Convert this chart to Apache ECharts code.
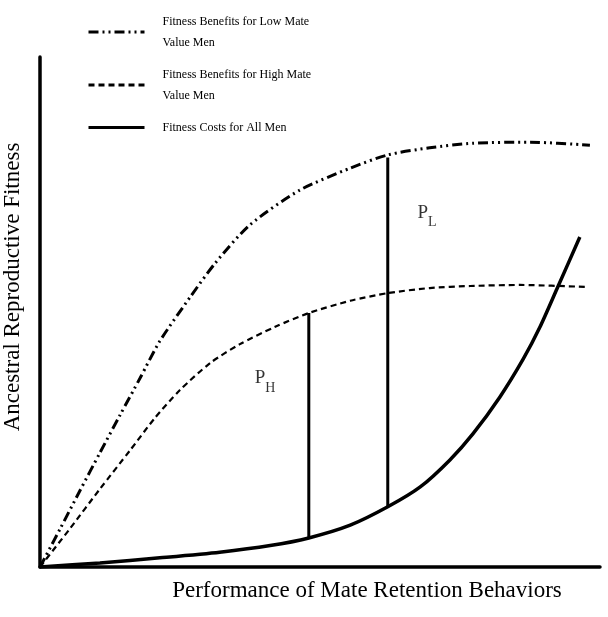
<!DOCTYPE html>
<html>
<head>
<meta charset="utf-8">
<script src="https://cdn.jsdelivr.net/npm/echarts@6/dist/echarts.min.js"></script>
<style>
html,body{margin:0;padding:0;background:#fff;}
#chart{width:608px;height:617px;}
</style>
</head>
<body>
<div id="chart"></div>
<script>
// Names
const nameLow = 'Fitness Benefits for Low Mate\nValue Men';
const nameHigh = 'Fitness Benefits for High Mate\nValue Men';
const nameCost = 'Fitness Costs for All Men';
const xAxisName = 'Performance of Mate Retention Behaviors';
const yAxisName = 'Ancestral Reproductive Fitness';

// Fitness benefits for low mate value men (dash-dot-dot)
const lowX = [0, 3.6, 7.1, 10.7, 14.3, 17.9, 21.4, 26.8, 31.3, 37.5, 46.4, 55.4, 62.1, 69.6, 77.3, 87.5, 98.2];
const lowY = [0, 7.5, 14.9, 22.4, 29.8, 37.1, 44.3, 52.9, 59.6, 67.1, 73.9, 78.2, 80.8, 82.2, 83.1, 83.3, 82.7];

// Fitness benefits for high mate value men (dashed)
const highX = [0, 5.4, 10.7, 16.1, 20.5, 25.0, 30.4, 35.7, 42.0, 48.0, 55.4, 62.1, 69.6, 76.8, 85.7, 97.9];
const highY = [0, 7.6, 15.3, 22.9, 29.2, 34.7, 40.0, 43.7, 47.1, 49.8, 52.2, 53.7, 54.7, 55.1, 55.3, 54.9];

// Fitness costs for all men (solid)
const costX = [0, 10.7, 21.4, 32.1, 41.1, 48.0, 55.4, 62.1, 67.9, 73.2, 77.3, 82.1, 86.3, 89.3, 92.3, 96.4];
const costY = [0, 0.8, 1.8, 2.9, 4.2, 5.7, 8.2, 11.8, 15.7, 21.0, 26.1, 33.3, 40.8, 47.1, 54.5, 64.7];

// Vertical gaps P_H and P_L
const gapNames = ['H', 'L'];
const gapX = [48.0, 62.1];
const gapBottom = [5.7, 11.8];
const gapTop = [49.8, 80.3];
const gapLabelX = [40.2, 69.1];
const gapLabelY = [36.5, 69.0];

const zip = (xs, ys) => xs.map((x, i) => [x, ys[i]]);
const serif = '"Liberation Serif", "Times New Roman", serif';

const series = [
  {
    name: nameLow, type: 'line', smooth: 0.25, symbol: 'none',
    data: zip(lowX, lowY),
    lineStyle: { color: '#000', width: 3, type: [10, 4, 2, 4, 2, 4], cap: 'butt' }
  },
  {
    name: nameHigh, type: 'line', smooth: 0.25, symbol: 'none',
    data: zip(highX, highY),
    lineStyle: { color: '#000', width: 2.2, type: [6, 4], cap: 'butt' }
  },
  {
    name: nameCost, type: 'line', smooth: 0.25, symbol: 'none',
    data: zip(costX, costY),
    lineStyle: { color: '#000', width: 3.5 }
  }
];
gapX.forEach((x, i) => {
  series.push({
    type: 'line', symbol: 'none', silent: true,
    data: [[x, gapBottom[i]], [x, gapTop[i]]],
    lineStyle: { color: '#000', width: 3 }
  });
  series.push({
    type: 'scatter', symbolSize: 0, silent: true,
    data: [[gapLabelX[i], gapLabelY[i]]],
    label: {
      show: true, position: 'inside',
      formatter: '{p|P}{s|' + gapNames[i] + '}',
      rich: {
        p: { fontFamily: serif, fontSize: 19, color: '#000', verticalAlign: 'top', lineHeight: 24 },
        s: { fontFamily: serif, fontSize: 14, color: '#000', verticalAlign: 'bottom', lineHeight: 24, padding: [0, 0, -2, 0] }
      }
    }
  });
});

const chart = echarts.init(document.getElementById('chart'), null, { renderer: 'canvas' });
chart.setOption({
  animation: false,
  backgroundColor: '#fff',
  grid: { left: 40, top: 57, right: 8, bottom: 50, containLabel: false, outerBoundsMode: 'none' },
  legend: {
    data: [nameLow, nameHigh, nameCost],
    orient: 'vertical',
    left: 82, top: 6,
    itemWidth: 56, itemHeight: 14,
    itemGap: 11,
    itemStyle: { color: 'rgba(0,0,0,0)', borderWidth: 0, opacity: 0 },
    lineStyle: { width: 3 },
    textStyle: { fontFamily: serif, fontSize: 12, color: '#000', lineHeight: 21, padding: [0, 0, 0, 13] },
    selectedMode: false
  },
  xAxis: {
    type: 'value', min: 0, max: 100,
    axisLine: { lineStyle: { color: '#000', width: 3.5 } },
    axisTick: { show: false }, axisLabel: { show: false }, splitLine: { show: false },
    name: xAxisName, nameLocation: 'middle', nameGap: 12,
    nameTextStyle: { fontFamily: serif, fontSize: 23, color: '#000', verticalAlign: 'top', padding: [0, 0, 0, 94] }
  },
  yAxis: {
    type: 'value', min: 0, max: 100,
    axisLine: { lineStyle: { color: '#000', width: 3.5 } },
    axisTick: { show: false }, axisLabel: { show: false }, splitLine: { show: false },
    name: yAxisName, nameLocation: 'middle', nameGap: 16,
    nameTextStyle: { fontFamily: serif, fontSize: 23, color: '#000', padding: [0, 0, 0, 50] }
  },
  series: series
});
</script>
</body>
</html>
